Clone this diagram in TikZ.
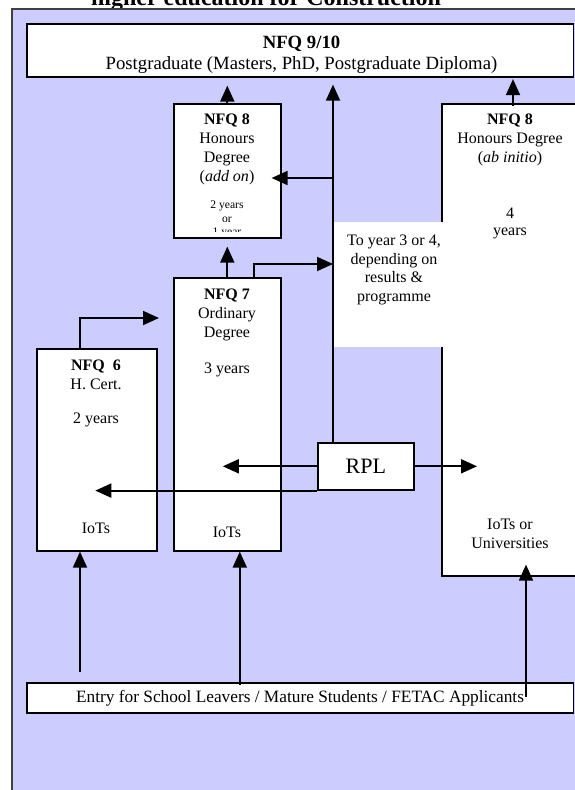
\documentclass[tikz,border=0pt]{standalone}
\usepackage{fontspec}
\setmainfont{Liberation Serif}
\usetikzlibrary{arrows.meta, positioning, calc}
\definecolor{cpanel}{HTML}{CCCCFF}
\definecolor{cframe}{HTML}{404040}
\tikzset{
  every picture/.style={line width=1.6pt},
  box/.style 2 args={draw=black, fill=white, rectangle, anchor=north west, inner sep=0pt, minimum width=#1, minimum height=#2},
  arrow/.style={-{Triangle[length=16pt, width=14pt]}, draw=black, line width=1.8pt},
  txt/.style={align=center, inner sep=0pt, font=\fontsize{16}{19}\selectfont},
  smalltxt/.style={align=center, inner sep=0pt, font=\fontsize{11.6}{13.5}\selectfont},
}

\begin{document}
\begin{tikzpicture}[x=1pt, y=-1pt]
  \useasboundingbox (0,0) rectangle (574,790);
  % title, cut by the top edge
  \node[font=\fontsize{24}{28}\selectfont\bfseries, anchor=base, inner sep=0pt] (title) at (266,5.5) {higher education for Construction};
  \filldraw[fill=cpanel, draw=cframe, line width=2pt] (12,8.5) rectangle (620,830);

  \node[box={546.5pt}{53pt}] (pg) at (26,23) {};
  \node[txt, anchor=north, font=\fontsize{18.7}{20.5}\selectfont] (pgtext) at (301.5,35.7) {\textbf{NFQ 9/10}\\Postgraduate (Masters, PhD, Postgraduate Diploma)};

  \node[box={107pt}{134pt}] (addon) at (173,103) {};
  \begin{scope}
    \clip (addon.north west) rectangle ([yshift=7pt]addon.south east);
    \node[txt, anchor=north] (addontext) at (227,112.7) {\textbf{NFQ 8}\\Honours\\Degree\\(\textit{add on})};
    \node[smalltxt, anchor=north] (addonyrs) at (227,200.2) {2 years\\or\\1 year};
  \end{scope}

  \node[box={200pt}{472pt}] (abinit) at (441,103) {};
  \node[txt, anchor=north] (abtext) at (510,112.7) {\textbf{NFQ 8}\\Honours Degree\\(\textit{ab initio})};
  \node[txt, anchor=north, font=\fontsize{16}{17}\selectfont] (abyrs) at (510,206.7) {4\\years};
  \node[txt] (abinst) at (510,533.5) {IoTs or\\Universities};

  % white gap cut into the left side of the ab initio box
  \fill[white] (333,222) rectangle (443,347);
  \node[txt, anchor=north, font=\fontsize{16}{18.7}\selectfont] (route) at (394,234) {To year 3 or 4,\\depending on\\results \&\\programme};

  \node[box={107pt}{273pt}] (ord) at (173,277) {};
  \node[txt, anchor=north] (ordtext) at (227,287.7) {\textbf{NFQ 7}\\Ordinary\\Degree\\[17.5pt]3 years};
  \node[txt] (ordinst) at (227,532) {IoTs};

  \node[box={120pt}{202pt}] (hcert) at (36,348) {};
  \node[txt, anchor=north] (hcerttext) at (96,358.7) {\textbf{NFQ\ \ 6}\\H. Cert.\\[15.5pt]2 years};
  \node[txt] (hcertinst) at (96,528) {IoTs};

  \node[box={96pt}{47pt}, font=\fontsize{22}{26}\selectfont] (rpl) at (317,442) {RPL};
  \node[box={546.5pt}{30pt}, font=\fontsize{17.3}{20}\selectfont] (entry) at (26,682) {Entry for School Leavers / Mature Students / FETAC Applicants};

  % connectors
  \coordinate (spine) at (333,178);
  \coordinate (ordup) at (254,264);
  \coordinate (hcup) at (80,318);
  \coordinate (abup) at (513,106);
  \coordinate (abin) at (526,697);
  \draw[arrow] (spine |- rpl.north) -- ([yshift=-7pt]spine |- pg.south);
  \draw[arrow] (spine) -- ([xshift=-10pt]addon.east |- spine);
  \draw[arrow, shorten >=8pt] (addon.north) -- (addon.north |- pg.south);
  \draw[arrow, shorten >=1.5pt] (abup) -- (abup |- pg.south);
  \draw[arrow, shorten >=8pt] (ord.north) -- (addon.south);
  \draw[arrow] (ord.north -| ordup) -- (ordup) -- (spine |- ordup);
  \draw[arrow] (hcert.north -| hcup) -- (hcup) -- ([xshift=-14pt]ord.west |- hcup);
  \draw[arrow] (rpl.west) -- ([xshift=-4.5pt]ord.center |- rpl.west);
  \draw[arrow] (rpl.south west) -- ([xshift=-1.5pt]hcert.center |- rpl.south west);
  \draw[arrow] (rpl.east) -- ([xshift=36pt]abinit.west |- rpl.east);
  \draw[arrow] ([yshift=10pt]entry.north -| hcup) -- (hcert.south -| hcup);
  \draw[arrow] ([xshift=12.5pt, yshift=-3pt]ord.south |- entry.north) -- ([xshift=12.5pt]ord.south);
  \draw[arrow] (abin) -- ([yshift=12pt]abinit.south -| abin);
\end{tikzpicture}
\end{document}
